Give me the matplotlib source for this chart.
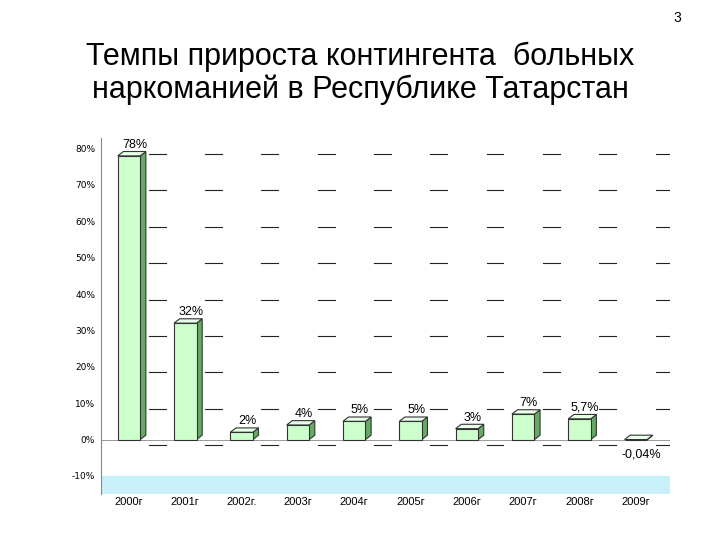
import matplotlib
matplotlib.use("Agg")
import matplotlib.pyplot as plt
from matplotlib.patches import Polygon

years = ["2000г", "2001г", "2002г.", "2003г", "2004г", "2005г", "2006г", "2007г", "2008г", "2009г"]
values = [78, 32, 2, 4, 5, 5, 3, 7, 5.7, -0.04]
labels = ["78%", "32%", "2%", "4%", "5%", "5%", "3%", "7%", "5,7%", "-0,04%"]
yticks = [-10, 0, 10, 20, 30, 40, 50, 60, 70, 80]

fig = plt.figure(figsize=(7.2, 5.4), dpi=100)
fig.text(0.5, 0.865, "Темпы прироста контингента  больных\nнаркоманией в Республике Татарстан",
         ha="center", va="center", fontsize=22, family="Liberation Sans", linespacing=1.1)
fig.text(0.935, 0.96, "3", fontsize=10, family="Liberation Sans")

ax = fig.add_axes([0.14, 0.085, 0.79, 0.66])
ax.set_xlim(-0.5, 9.6)
ax.set_ylim(-15, 83)
for s in ["top", "right", "bottom"]:
    ax.spines[s].set_visible(False)
ax.spines["left"].set_color("#888")
ax.set_yticks(yticks)
ax.set_yticklabels([f"{t}%" for t in yticks], fontsize=6.5)
ax.tick_params(axis="y", length=0, pad=4)
ax.set_xticks(range(len(years)))
ax.set_xticklabels(years, fontsize=8, family="Liberation Sans")
ax.tick_params(axis="x", length=0, pad=2)

# floor
ax.add_patch(Polygon([(-0.5, -10), (9.6, -10), (9.6, -15), (-0.5, -15)],
                     closed=True, color="#c8f0f8", zorder=0))
# dashed grid segments
for t in yticks[1:]:
    for i in range(10):
        ax.plot([i + 0.35, i + 0.65], [t - 1.5, t - 1.5], color="#222", lw=0.8, zorder=0)
ax.axhline(0, color="#888", lw=0.6, zorder=1)

w = 0.4
dx, dy = 0.1, 1.2
for i, v in enumerate(values):
    x0 = i - w / 2
    ax.bar(i, v, width=w, color="#ccffcc", edgecolor="#333", lw=0.8, zorder=3)
    top = max(v, 0)
    bot = min(v, 0)
    ax.add_patch(Polygon([(x0 + w, bot), (x0 + w + dx, bot + dy), (x0 + w + dx, top + dy), (x0 + w, top)],
                         closed=True, facecolor="#66aa66", edgecolor="#333", lw=0.8, zorder=2))
    ax.add_patch(Polygon([(x0, top), (x0 + dx, top + dy), (x0 + w + dx, top + dy), (x0 + w, top)],
                         closed=True, facecolor="#e8ffe8", edgecolor="#333", lw=0.8, zorder=2))
    ly = top + 3 if v >= 0 else bot - 4
    ax.text(i + 0.1, ly, labels[i], ha="center", va="center", fontsize=9, family="Liberation Sans")

fig.savefig("out.png", dpi=100)
